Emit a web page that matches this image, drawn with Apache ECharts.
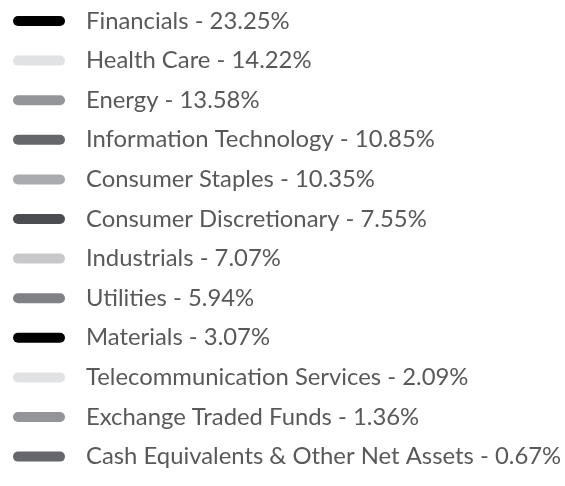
<!DOCTYPE html>
<html>
<head>
<meta charset="utf-8">
<script src="https://cdn.jsdelivr.net/npm/echarts@6/dist/echarts.min.js"></script>
<style>
  html, body { margin: 0; padding: 0; background: #fff; }
  #chart { width: 565px; height: 486px; }
</style>
</head>
<body>
<div id="chart"></div>
<script>
// sector weights
const sectors = [
    'Financials', 'Health Care', 'Energy', 'Information Technology',
    'Consumer Staples', 'Consumer Discretionary', 'Industrials', 'Utilities',
    'Materials', 'Telecommunication Services', 'Exchange Traded Funds',
    'Cash Equivalents & Other Net Assets'
];
const weights = [23.25, 14.22, 13.58, 10.85, 10.35, 7.55, 7.07, 5.94, 3.07, 2.09, 1.36, 0.67];

// greys repeat every 8 sectors
const palette = ['#000000', '#e1e2e4', '#949599', '#66676b', '#aaabaf', '#4c4d51', '#c8c8ca', '#808185'];

var chart = echarts.init(document.getElementById('chart'));

// capsule shaped swatch
const pillIcon = 'path://M5,0 H47 A5,5 0 0 1 47,10 H5 A5,5 0 0 1 5,0 Z';

chart.setOption({
    animation: false,
    color: palette,
    legend: {
        orient: 'vertical',
        left: 8,
        top: 4,
        icon: pillIcon,
        itemWidth: 52,
        itemHeight: 10,
        itemGap: 15.6,
        textStyle: {
            color: '#58595b',
            fontFamily: 'Lato',
            fontSize: 23.85,
            lineHeight: 24,
            padding: [0, 0, 0, 16]
        },
        formatter: function (name) {
            const i = sectors.indexOf(name);
            return name + ' - ' + weights[i].toFixed(2) + '%';
        },
        data: sectors
    },
    series: [{
        type: 'pie',
        radius: [0, 0],
        center: [-100, -100],
        silent: true,
        label: { show: false },
        data: sectors.map((s, i) => ({ name: s, value: weights[i] }))
    }]
});
</script>
</body>
</html>
